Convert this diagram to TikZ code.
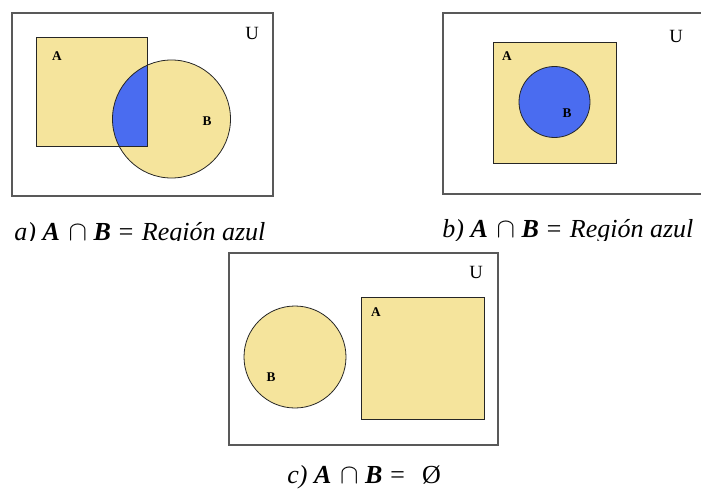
\documentclass[tikz,border=0pt]{standalone}
\usepackage{fontspec}
\setmainfont{Liberation Serif}
\newcommand{\capexpr}{\hspace{5pt}\textbf{A}\hspace{6.5pt}$\cap$\hspace{5pt}\textbf{B}\hspace{4.5pt}=}
\begin{document}
\begin{tikzpicture}[x=0.75pt,y=-0.75pt,
  ubox/.style={draw=black!65,line width=0.8pt},
  setfill/.style={fill=setyellow,draw=black!85,line width=0.6pt},
  setlbl/.style={font=\fontsize{10}{11}\selectfont\bfseries,inner sep=0pt},
  ulbl/.style={font=\fontsize{14}{16}\selectfont,inner sep=0pt},
  captxt/.style={font=\fontsize{19.5}{22}\selectfont\itshape,inner sep=0pt,anchor=base west}]
\definecolor{setyellow}{RGB}{245,228,156}
\definecolor{setblue}{RGB}{74,108,240}
\useasboundingbox (0,0) rectangle (701,489);
\begin{scope}
\clip (0,0) rectangle (701,240);
% ---- a)
\draw[ubox] (12,13) rectangle (273,196);
\fill[setyellow] (36,37) rectangle (147,146);
\fill[setyellow] (171.5,119) circle[radius=59];
\begin{scope}
\clip (36,37) rectangle (147,146);
\fill[setblue] (171.5,119) circle[radius=59];
\end{scope}
\draw[black!85,line width=0.6pt] (36,37) rectangle (147,146);
\draw[black!85,line width=0.6pt] (171.5,119) circle[radius=59];
\node[setlbl] (aA) at (57,56) {A};
\node[setlbl] (aB) at (207,121) {B};
\node[ulbl] (aU) at (252,33) {U};
\node[captxt] (acap) at (14,240) {a)\capexpr\hspace{5.5pt}Región azul};
% ---- b)
\draw[ubox] (443,13) rectangle (712,194);
\draw[setfill] (493,42) rectangle (616,163);
\draw[fill=setblue,draw=black!85,line width=0.6pt] (554.5,102) circle[radius=35.5];
\node[setlbl] (bA) at (507,56) {A};
\node[setlbl] (bB) at (567,113) {B};
\node[ulbl] (bU) at (676,36) {U};
\node[captxt] (bcap) at (442,237) {b)\capexpr\hspace{5.5pt}Región azul};
\end{scope}
% ---- c)
\draw[ubox] (229,253) rectangle (498,445);
\draw[setfill] (295,357) circle[radius=51];
\draw[setfill] (361,297) rectangle (484,419);
\node[setlbl] (cA) at (376,312) {A};
\node[setlbl] (cB) at (271,377) {B};
\node[ulbl] (cU) at (476,272) {U};
\node[captxt] (ccap) at (287,483) {c)\capexpr\hspace{12pt}\upshape Ø};
\end{tikzpicture}
\end{document}
